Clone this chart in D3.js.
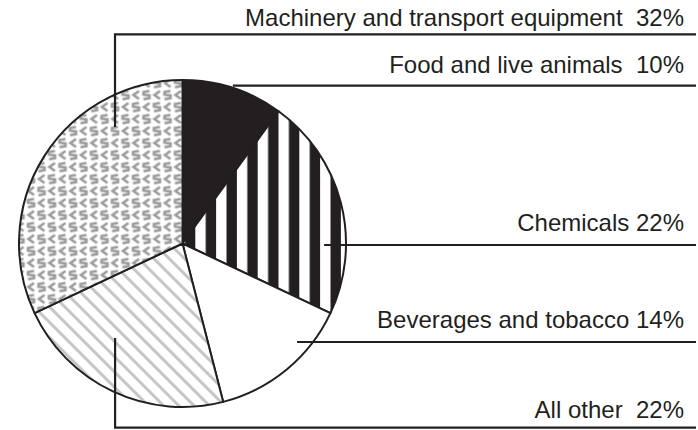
<!DOCTYPE html>
<html>
<head>
<meta charset="utf-8">
<script src="https://cdn.jsdelivr.net/npm/d3@7"></script>
<style>
  html, body { margin: 0; padding: 0; background: #fff; }
  svg { display: block; }
  text { font-family: "Liberation Sans", Arial, sans-serif; white-space: pre; }
</style>
</head>
<body>
<svg id="chart"></svg>
<script>
// slices, clockwise from 12 o'clock
const categories = ["Food and live animals", "Chemicals", "Beverages and tobacco", "All other", "Machinery and transport equipment"];
const shares = [10, 22, 14, 22, 32];
// label text as printed (spacing kept as in the original)
const labelText = [
  "Food and live animals  10%",
  "Chemicals 22%",
  "Beverages and tobacco 14%",
  "All other  22%",
  "Machinery and transport equipment  32%"
];

const width = 698;
const height = 430;
const cx = 182.5, cy = 243.5, R = 163.5;
const ink = "#231f20";

// leader layout per slice: anchor inside the pie (angle deg, fraction of R), rule y, text baseline
const leader = [
  { angle: 17.7, rf: 1.013, lineY: 85.7, textY: 72.7 },
  { angle: 90.6, rf: 0.866, lineY: 245, textY: 230.7 },
  { angle: 130.7, rf: 0.924, lineY: 342, textY: 328.3 },
  { angle: 215.5, rf: 0.71, lineY: 427.7, textY: 418.3 },
  { angle: -30.1, rf: 0.823, lineY: 34.3, textY: 26 }
];

const svg = d3.select("#chart").attr("width", width).attr("height", height);
const defs = svg.append("defs");

// vertical black / white bars
const bars = defs.append("pattern")
  .attr("id", "bars")
  .attr("patternUnits", "userSpaceOnUse")
  .attr("x", 200).attr("y", 0)
  .attr("width", 20.8).attr("height", 10);
bars.append("rect").attr("width", 20.8).attr("height", 10).attr("fill", ink);
bars.append("rect").attr("width", 10.4).attr("height", 10).attr("fill", "#fff");

// light grey diagonal hatch
const hatch = defs.append("pattern")
  .attr("id", "hatch")
  .attr("patternUnits", "userSpaceOnUse")
  .attr("width", 10.8).attr("height", 10)
  .attr("patternTransform", "rotate(-45)");
hatch.append("rect").attr("width", 10.8).attr("height", 10).attr("fill", "#fff");
hatch.append("rect").attr("width", 3).attr("height", 10).attr("fill", "#c6c6c6");

// grey "<S" glyph texture, rows staggered by half a unit
const glyph = defs.append("pattern")
  .attr("id", "glyph")
  .attr("patternUnits", "userSpaceOnUse")
  .attr("x", 1).attr("y", 2)
  .attr("width", 21).attr("height", 24);
glyph.append("rect").attr("width", 21).attr("height", 24).attr("fill", "#fff");
[[0, 0], [10.5, 12], [-10.5, 12]].forEach(([dx, dy]) => {
  const g = glyph.append("g").attr("transform", `translate(${dx},${dy})`)
    .attr("fill", "none").attr("stroke", "#9a9a9a").attr("stroke-width", 2.6)
    .attr("stroke-linejoin", "miter");
  g.append("path").attr("d", "M8,1.5 L2.5,5.5 L8,9.5");
  g.append("path").attr("d", "M18.5,1.5 L12.5,2.5 L12.5,5.2 L18.5,6 L18.5,8.6 L12.5,9.8");
});

const fills = [ink, "url(#bars)", "#fff", "url(#hatch)", "url(#glyph)"];

const pie = d3.pie().sort(null).value(d => d);
const arc = d3.arc().innerRadius(0).outerRadius(R);
const arcs = pie(shares);

const g = svg.append("g").attr("transform", `translate(${cx},${cy})`);

g.selectAll("path.slice")
  .data(arcs)
  .enter()
  .append("path")
  .attr("class", "slice")
  .attr("d", arc)
  .attr("fill", (d, i) => fills[i])
  .attr("stroke", ink)
  .attr("stroke-width", 2)
  .attr("stroke-linejoin", "round");

// leader rules
const rightEdge = 696;
leader.forEach((l, i) => {
  const [ax, ay] = d3.pointRadial(l.angle * Math.PI / 180, l.rf * R);
  const x0 = cx + ax, y0 = cy + ay;
  const p = d3.path();
  p.moveTo(x0, y0);
  if (Math.abs(y0 - l.lineY) > 1.5) p.lineTo(x0, l.lineY);
  else p.moveTo(x0, l.lineY);
  p.lineTo(rightEdge, l.lineY);
  svg.append("path")
    .attr("d", p.toString())
    .attr("fill", "none")
    .attr("stroke", ink)
    .attr("stroke-width", 2.2);
  svg.append("text")
    .attr("x", 684)
    .attr("y", l.textY)
    .attr("text-anchor", "end")
    .attr("font-size", 24)
    .attr("fill", ink)
    .text(labelText[i]);
});
</script>
</body>
</html>
